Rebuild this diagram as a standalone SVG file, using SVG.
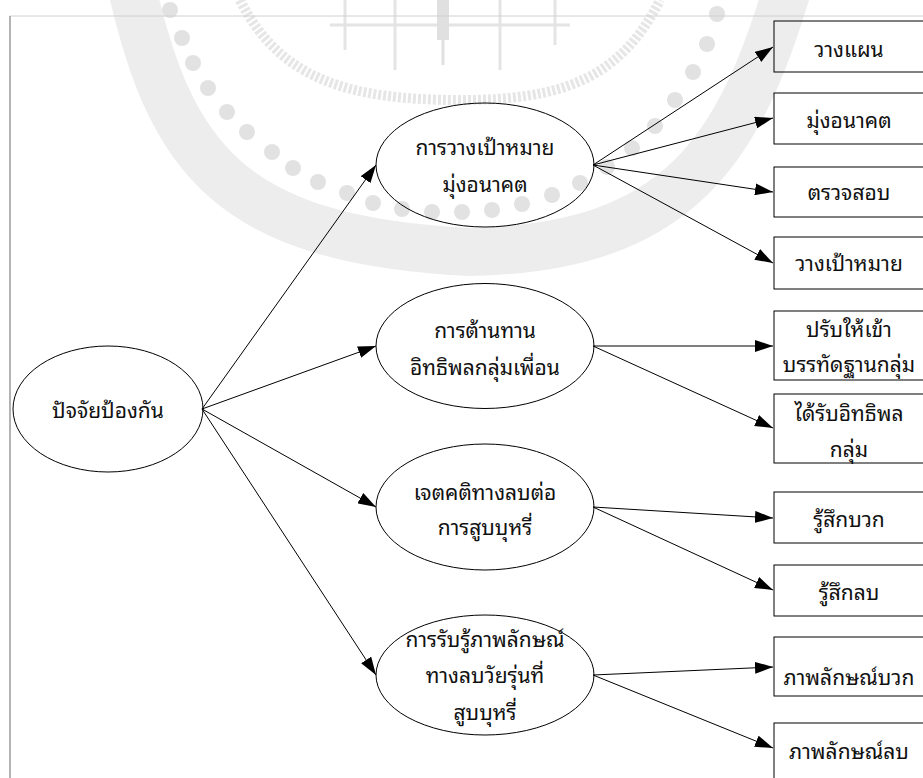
<svg xmlns="http://www.w3.org/2000/svg" width="923" height="778" viewBox="0 0 923 778">
<style>
.node ellipse, .node rect { fill: none; stroke: #000; stroke-width: 1; }
.node text { font-family: "Noto Sans Thai Looped", "Loma", "Tahoma", "Garuda", "Noto Sans Thai", "Noto Sans", sans-serif; font-size: 21px; fill: #111; text-anchor: middle; }
.edges line { stroke: #000; stroke-width: 1; marker-end: url(#arr); }
.wm { fill: #e2e2e2; }
</style>
<defs>
<marker id="arr" markerUnits="userSpaceOnUse" markerWidth="18" markerHeight="12" refX="18" refY="6" orient="auto">
<path d="M0,0 L18,6 L0,12 z" fill="#000"/>
</marker>
</defs>
<rect width="923" height="778" fill="#fff"/>
<g id="watermark">
<path d="M130,-20 C170,160 230,240 470,252 C680,248 740,150 790,-20" fill="none" stroke="#ededed" stroke-width="48"/>
<g class="wm">
<circle cx="170" cy="10" r="8"/><circle cx="182" cy="38" r="8"/><circle cx="193" cy="63" r="8"/><circle cx="208" cy="88" r="8"/><circle cx="227" cy="112" r="8"/><circle cx="247" cy="132" r="8"/><circle cx="272" cy="152" r="8"/><circle cx="293" cy="168" r="8"/><circle cx="318" cy="182" r="8"/><circle cx="347" cy="193" r="8"/><circle cx="373" cy="203" r="8"/><circle cx="402" cy="209" r="8"/><circle cx="432" cy="212" r="8"/><circle cx="462" cy="212" r="8"/><circle cx="492" cy="210" r="8"/><circle cx="522" cy="204" r="8"/><circle cx="552" cy="195" r="8"/><circle cx="580" cy="183" r="8"/><circle cx="607" cy="167" r="8"/><circle cx="632" cy="148" r="8"/><circle cx="655" cy="126" r="8"/><circle cx="675" cy="100" r="8"/><circle cx="693" cy="72" r="8"/><circle cx="707" cy="44" r="8"/><circle cx="717" cy="14" r="8"/>
</g>
<path d="M240,0 C280,80 350,100 460,100 C560,100 620,80 660,0" fill="none" stroke="#e6e6e6" stroke-width="10" stroke-dasharray="3 2"/>
<g stroke="#e4e4e4" stroke-width="3" fill="none">
<line x1="330" y1="25" x2="570" y2="25"/><line x1="345" y1="0" x2="345" y2="50"/><line x1="395" y1="0" x2="395" y2="70"/><line x1="500" y1="0" x2="500" y2="70"/><line x1="555" y1="0" x2="555" y2="45"/>
</g>
<rect x="437" y="0" width="12" height="40" fill="#e0e0e0"/>
<line x1="443" y1="40" x2="443" y2="65" stroke="#e0e0e0" stroke-width="3"/>
</g>
<g id="frame" fill="none">
<line x1="10" y1="16" x2="923" y2="16" stroke="#d0d0d0" stroke-width="1"/>
<line x1="10" y1="16" x2="10" y2="778" stroke="#9a9a9a" stroke-width="1.5"/>
</g>
<g class="edges" id="connectors">
<line x1="202" y1="409" x2="376" y2="165"/>
<line x1="202" y1="409" x2="376" y2="346"/>
<line x1="202" y1="409" x2="376" y2="507"/>
<line x1="202" y1="409" x2="376" y2="675"/>
<line x1="593" y1="165" x2="773" y2="47"/>
<line x1="593" y1="165" x2="773" y2="118"/>
<line x1="593" y1="165" x2="773" y2="192"/>
<line x1="593" y1="165" x2="773" y2="263"/>
<line x1="593" y1="346" x2="773" y2="346"/>
<line x1="593" y1="346" x2="773" y2="428"/>
<line x1="593" y1="507" x2="773" y2="518"/>
<line x1="593" y1="507" x2="773" y2="590"/>
<line x1="593" y1="675" x2="773" y2="667"/>
<line x1="593" y1="675" x2="773" y2="748"/>
</g>
<g id="root" class="node"><ellipse cx="108" cy="409" rx="95" ry="63"/><text x="108" y="418">ปัจจัยป้องกัน</text></g>
<g id="e1" class="node"><ellipse cx="485" cy="165" rx="109" ry="62"/><text x="485" y="155">การวางเป้าหมาย</text><text x="485" y="192">มุ่งอนาคต</text></g>
<g id="e2" class="node"><ellipse cx="485" cy="346" rx="109" ry="62.5"/><text x="485" y="338">การต้านทาน</text><text x="485" y="375">อิทธิพลกลุ่มเพื่อน</text></g>
<g id="e3" class="node"><ellipse cx="485" cy="507" rx="109" ry="63"/><text x="485" y="500">เจตคติทางลบต่อ</text><text x="485" y="535">การสูบบุหรี่</text></g>
<g id="e4" class="node"><ellipse cx="485" cy="675" rx="109" ry="60"/><text x="485" y="647">การรับรู้ภาพลักษณ์</text><text x="485" y="683">ทางลบวัยรุ่นที่</text><text x="485" y="720">สูบบุหรี่</text></g>
<g id="b1" class="node"><rect x="774" y="21" width="152" height="51"/><text x="849" y="57">วางแผน</text></g>
<g id="b2" class="node"><rect x="774" y="93" width="152" height="51"/><text x="849" y="128">มุ่งอนาคต</text></g>
<g id="b3" class="node"><rect x="774" y="167" width="152" height="50"/><text x="849" y="200">ตรวจสอบ</text></g>
<g id="b4" class="node"><rect x="774" y="237" width="152" height="52"/><text x="849" y="271">วางเป้าหมาย</text></g>
<g id="b5" class="node"><rect x="774" y="311" width="152" height="69"/><text x="849" y="337">ปรับให้เข้า</text><text x="849" y="372">บรรทัดฐานกลุ่ม</text></g>
<g id="b6" class="node"><rect x="774" y="394" width="152" height="69"/><text x="849" y="421">ได้รับอิทธิพล</text><text x="849" y="457">กลุ่ม</text></g>
<g id="b7" class="node"><rect x="774" y="492" width="152" height="51"/><text x="849" y="527">รู้สึกบวก</text></g>
<g id="b8" class="node"><rect x="774" y="565" width="152" height="51"/><text x="849" y="600">รู้สึกลบ</text></g>
<g id="b9" class="node"><rect x="774" y="637" width="152" height="59"/><text x="849" y="685">ภาพลักษณ์บวก</text></g>
<g id="b10" class="node"><rect x="774" y="723" width="152" height="67"/><text x="849" y="759">ภาพลักษณ์ลบ</text></g>
</svg>
